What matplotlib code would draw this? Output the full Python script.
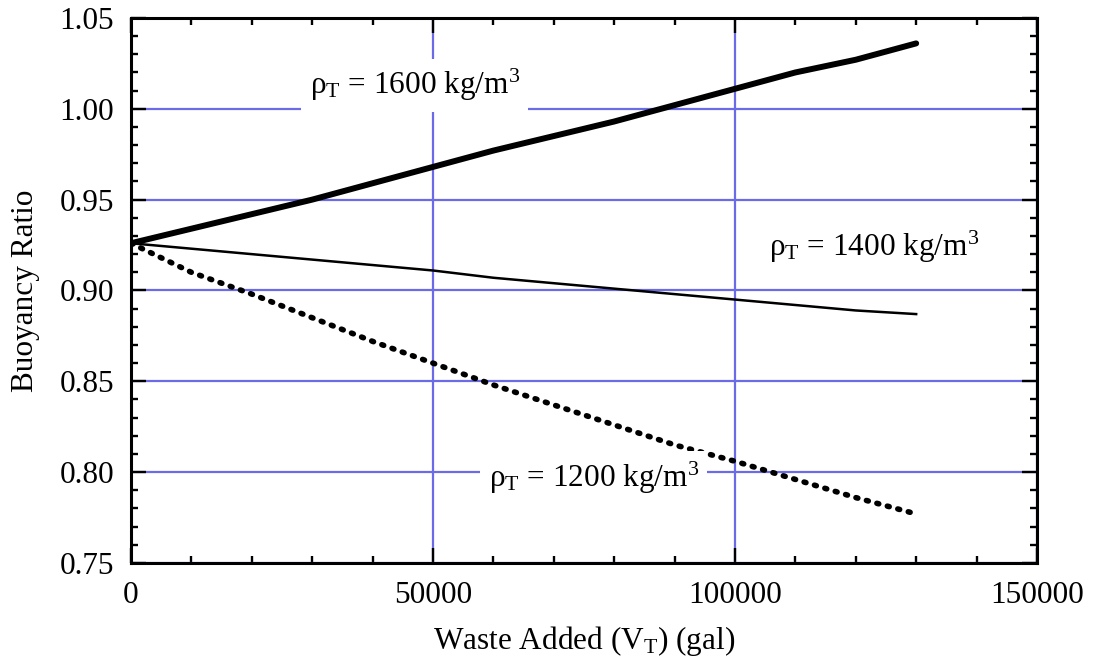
import matplotlib
matplotlib.use("Agg")
import matplotlib.pyplot as plt
from matplotlib.ticker import MultipleLocator, FormatStrFormatter

plt.rcParams['font.family'] = ['Liberation Serif', 'DejaVu Serif']
plt.rcParams['mathtext.fontset'] = 'custom'
plt.rcParams['mathtext.rm'] = 'Liberation Serif'
plt.rcParams['mathtext.it'] = 'Liberation Serif:italic'

# waste added (gal)
waste = [0, 10000, 20000, 30000, 40000, 50000, 60000, 70000,
         80000, 90000, 100000, 110000, 120000, 130000]
# buoyancy ratio for each tank waste density
ratio_1600 = [0.926, 0.934, 0.942, 0.950, 0.959, 0.968, 0.977, 0.985,
              0.993, 1.002, 1.011, 1.020, 1.027, 1.036]
ratio_1400 = [0.926, 0.923, 0.920, 0.917, 0.914, 0.911, 0.907, 0.904,
              0.901, 0.898, 0.895, 0.892, 0.889, 0.887]
ratio_1200 = [0.926, 0.910, 0.898, 0.885, 0.872, 0.860, 0.848, 0.837,
              0.826, 0.815, 0.806, 0.796, 0.786, 0.777]

labels = [r'ρ$_{\rm T}$ = 1600 kg/m$^3$',
          r'ρ$_{\rm T}$ = 1400 kg/m$^3$',
          r'ρ$_{\rm T}$ = 1200 kg/m$^3$']
label_pos = [(47000, 1.013), (123100, 0.924), (76600, 0.797)]

grid_blue = '#6b6be8'
fs = 22.5

fig = plt.figure(figsize=(10.95, 6.65), dpi=100)
ax = fig.add_axes([0.1196, 0.1534, 0.8274, 0.8196])

ax.plot(waste, ratio_1600, color='black', lw=4.3, solid_capstyle='round', zorder=3)
ax.plot(waste, ratio_1400, color='black', lw=1.8, zorder=3)
ax.plot(waste, ratio_1200, color='black', lw=4.0, linestyle=(0, (0.35, 1.6)),
        dash_capstyle='round', zorder=3)

for text, (x, y) in zip(labels, label_pos):
    ax.text(x, y, text, fontsize=fs, ha='center', va='center', zorder=4,
            bbox=dict(facecolor='white', edgecolor='none', pad=6))

ax.set_xlim(0, 150000)
ax.set_ylim(0.75, 1.05)
ax.xaxis.set_major_locator(MultipleLocator(50000))
ax.xaxis.set_minor_locator(MultipleLocator(10000))
ax.yaxis.set_major_locator(MultipleLocator(0.05))
ax.yaxis.set_minor_locator(MultipleLocator(0.01))
ax.yaxis.set_major_formatter(FormatStrFormatter('%.2f'))

ax.grid(True, which='major', color=grid_blue, lw=1.6, zorder=1)
ax.set_axisbelow(True)

ax.tick_params(which='both', direction='in', top=True, right=True, width=1.7, labelsize=fs)
ax.tick_params(which='major', length=11)
ax.tick_params(which='minor', length=5)
ax.tick_params(axis='x', pad=13)
ax.tick_params(axis='y', pad=12)
for sp in ax.spines.values():
    sp.set_linewidth(2.2)
    sp.set_zorder(5)

ax.set_xlabel(r'Waste Added (V$_{\rm T}$) (gal)', fontsize=fs, labelpad=10)
ax.set_ylabel('Buoyancy Ratio', fontsize=fs, labelpad=14)

fig.savefig('out.png', dpi=100)
